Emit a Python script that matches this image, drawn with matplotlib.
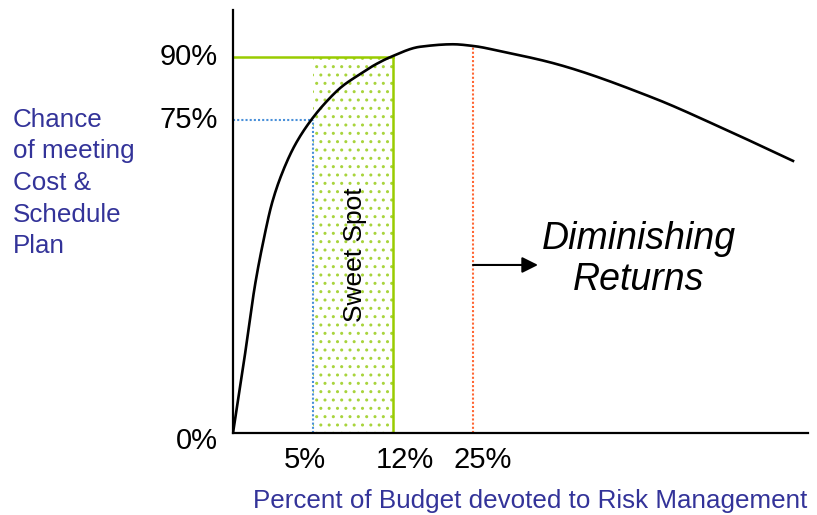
import numpy as np
import matplotlib.pyplot as plt

plt.rcParams['font.family'] = ['Liberation Sans', 'DejaVu Sans']
plt.rcParams['hatch.linewidth'] = 1.0

# budget position along the axis (arbitrary units) vs chance of meeting plan (%)
curve_x = [0, 10.7, 22.3, 30, 39, 49, 62, 77, 92, 109, 126, 142, 158,
           187, 220, 240, 270, 320, 420, 487, 560]
curve_y = [0, 16.7, 35.8, 45.5, 55.0, 62.1, 68.9, 74.5, 78.9, 82.9, 85.7, 88.1, 90,
           92.4, 93.0, 92.6, 91.2, 88.5, 80.2, 73.2, 65.1]

xtick_pos = [72, 172, 250]
xtick_labels = ['5%', '12%', '25%']
ytick_vals = [90, 75, 0]
ytick_labels = ['90%', '75%', '0%']

x_5, x_12, x_25 = 80, 160, 240
y_75, y_90 = 75, 90

blue = '#333399'
green = '#99cc00'


def pchip(xs, ys, n=600):
    # monotone cubic through the points, keeps the curve free of overshoot
    x = np.asarray(xs, float)
    y = np.asarray(ys, float)
    h = np.diff(x)
    d = np.diff(y) / h
    m = np.zeros_like(x)
    for k in range(1, len(x) - 1):
        if d[k - 1] * d[k] > 0:
            w1 = 2 * h[k] + h[k - 1]
            w2 = h[k] + 2 * h[k - 1]
            m[k] = (w1 + w2) / (w1 / d[k - 1] + w2 / d[k])
    m[0] = d[0]
    m[-1] = d[-1]
    xx = np.linspace(x[0], x[-1], n)
    idx = np.clip(np.searchsorted(x, xx) - 1, 0, len(x) - 2)
    t = (xx - x[idx]) / h[idx]
    h00 = 2 * t ** 3 - 3 * t ** 2 + 1
    h10 = t ** 3 - 2 * t ** 2 + t
    h01 = -2 * t ** 3 + 3 * t ** 2
    h11 = t ** 3 - t ** 2
    yy = (h00 * y[idx] + h10 * h[idx] * m[idx]
          + h01 * y[idx + 1] + h11 * h[idx] * m[idx + 1])
    return xx, yy


fig = plt.figure(figsize=(8.17, 5.15), dpi=100)
ax = fig.add_axes([233 / 817, 82 / 515, 575 / 817, 423 / 515])
ax.set_xlim(0, 575)
ax.set_ylim(0, 101.2)

# sweet spot band
ax.fill_between([x_5, x_12], 0, y_90, facecolor='none', edgecolor='#a8d43c',
                hatch='..', linewidth=0)
ax.plot([x_12, x_12], [0, y_90], color=green, lw=1.8)
ax.plot([0, x_12], [y_90, y_90], color=green, lw=1.8)

# 75% guide lines
ax.plot([0, x_5], [y_75, y_75], color='#4a90d9', lw=1.5, ls=(0, (1, 1)))
ax.plot([x_5, x_5], [0, y_75], color='#4a90d9', lw=1.5, ls=(0, (1, 1)))

# 25% marker
sx, sy = pchip(curve_x, curve_y)
y_at_25 = np.interp(x_25, sx, sy)
ax.plot([x_25, x_25], [0, y_at_25], color='#ff6633', lw=1.5, ls=(0, (1, 1)))

ax.plot(sx, sy, color='black', lw=1.9)

ax.annotate('', xy=(305, 40.2), xytext=(x_25, 40.2),
            arrowprops=dict(arrowstyle='-|>', color='black', lw=1.5,
                            mutation_scale=24, shrinkA=0, shrinkB=0))

ax.text(122, 42.6, 'Sweet Spot', rotation=90, ha='center', va='center',
        fontsize=19)
ax.text(406, 46.3, 'Diminishing', ha='center', va='center', fontsize=27,
        style='italic')
ax.text(406, 36.7, 'Returns', ha='center', va='center', fontsize=27,
        style='italic')

for s in ['top', 'right']:
    ax.spines[s].set_visible(False)
for s in ['left', 'bottom']:
    ax.spines[s].set_linewidth(1.6)
    ax.spines[s].set_color('black')
ax.set_xticks([])
ax.set_yticks([])

for v, lab in zip(ytick_vals, ytick_labels):
    off = -1.8 if v == 0 else 0
    ax.text(-15, v + off, lab, ha='right', va='center', fontsize=21)
for p, lab in zip(xtick_pos, xtick_labels):
    ax.text(p, -6.5, lab, ha='center', va='center', fontsize=21)

fig.text(13 / 817, 1 - 183 / 515,
         'Chance\nof meeting\nCost &\nSchedule\nPlan',
         ha='left', va='center', fontsize=18.7, color=blue, linespacing=1.4)
fig.text(530 / 817, 1 - 501 / 515,
         'Percent of Budget devoted to Risk Management',
         ha='center', va='center', fontsize=18.7, color=blue)

fig.savefig('out.png', dpi=100)
